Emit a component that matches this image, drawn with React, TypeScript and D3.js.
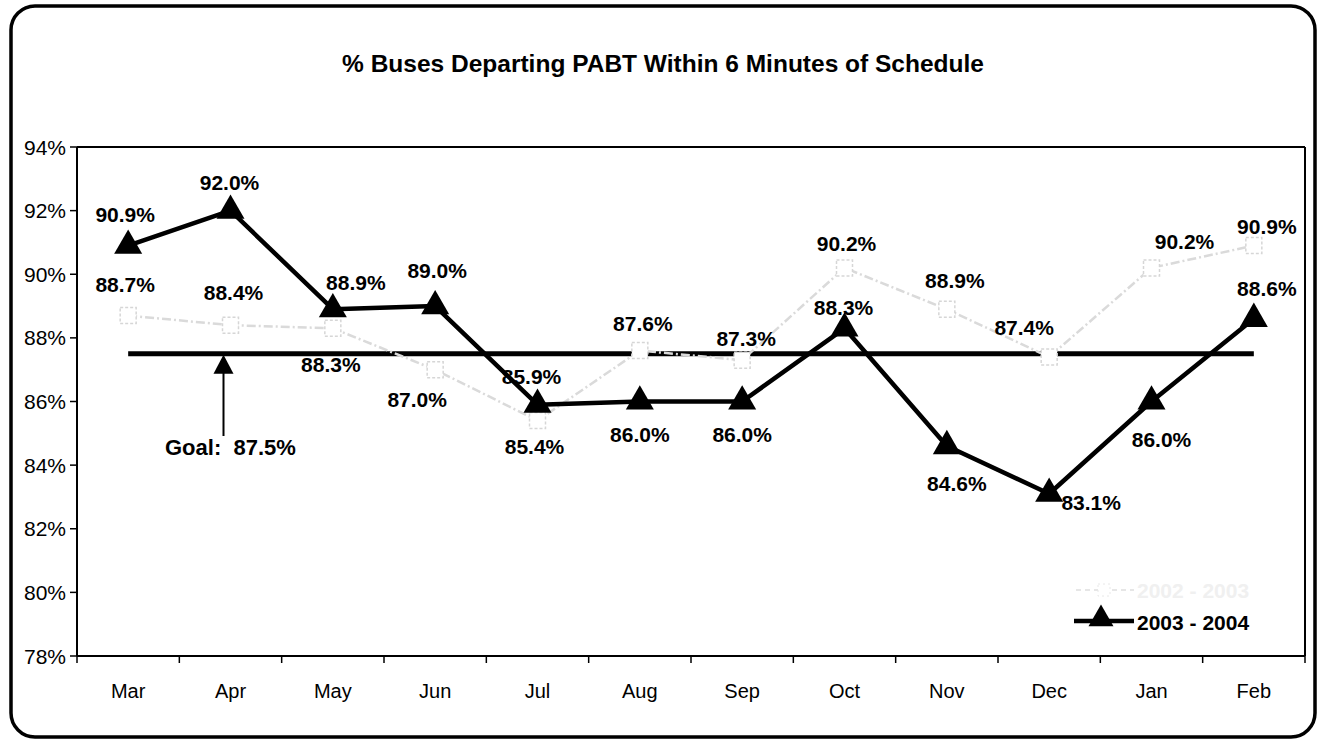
import React from "react";
import * as d3 from "d3";

const months = ["Mar", "Apr", "May", "Jun", "Jul", "Aug", "Sep", "Oct", "Nov", "Dec", "Jan", "Feb"];
const series0304 = [90.9, 92.0, 88.9, 89.0, 85.9, 86.0, 86.0, 88.3, 84.6, 83.1, 86.0, 88.6];
const series0203 = [88.7, 88.4, 88.3, 87.0, 85.4, 87.6, 87.3, 90.2, 88.9, 87.4, 90.2, 90.9];
const goalValue = 87.5;
const yTicks = [78, 80, 82, 84, 86, 88, 90, 92, 94];
const titleText = "% Buses Departing PABT Within 6 Minutes of Schedule";
const legendMain = "2003 - 2004";
const legendFaint = "2002 - 2003";

// label placement offsets (layout only)
const offMain: [number, number][] = [
  [-3, -31], [-1, -28], [23, -27], [2, -36], [-6, -28], [0, 33],
  [0, 33], [-1, -21], [10, 37], [42, 9], [10, 38], [13, -30],
];
const offFaint: [number, number][] = [
  [-3, -31], [3, -33], [-2, 36], [-18, 30], [-3, 26], [3, -27],
  [4, -22], [2, -24], [8, -29], [-25, -29], [33, -26], [13, -19],
];

const W = 1321, H = 745;
const left = 77, right = 1305, top = 147, bottom = 656;
const FONT = "'Liberation Sans', Arial, Helvetica, sans-serif";

export default function App() {
  const x = d3.scaleBand<string>().domain(months).range([left, right]);
  const cx = (m: string) => (x(m) as number) + x.bandwidth() / 2;
  const y = d3.scaleLinear().domain([78, 94]).range([bottom, top]);
  const fmt = (v: number) => v.toFixed(1) + "%";

  const line = d3.line<number>().x((_, i) => cx(months[i])).y((v) => y(v));
  const tri = d3.symbol().type(d3.symbolTriangle).size(340)();
  const triSmall = d3.symbol().type(d3.symbolTriangle).size(270)();

  const goalY = y(goalValue);
  const arrowX = cx("Apr") - 7;

  return (
    <svg width={W} height={H} style={{ position: "absolute", left: 0, top: 0, background: "#fff" }}
      fontFamily={FONT}>
      <rect x={0} y={0} width={W} height={H} fill="#fff" />
      {/* outer rounded frame */}
      <rect x={11} y={6} width={1304} height={731} rx={24} ry={24} fill="none" stroke="#000" strokeWidth={3.5} />

      {/* title */}
      <text x={663} y={72} textAnchor="middle" fontSize={24.5} fontWeight="bold">{titleText}</text>

      {/* plot frame */}
      <line x1={left} x2={right} y1={top} y2={top} stroke="#000" strokeWidth={2} />
      <line x1={right} x2={right} y1={top} y2={bottom} stroke="#000" strokeWidth={2} />
      <line x1={left} x2={left} y1={top} y2={bottom} stroke="#000" strokeWidth={2} />
      <line x1={left} x2={right} y1={bottom} y2={bottom} stroke="#000" strokeWidth={2} />

      {/* y ticks */}
      {yTicks.map((t) => (
        <g key={t}>
          <line x1={left - 7} x2={left} y1={y(t)} y2={y(t)} stroke="#000" strokeWidth={1.5} />
          <text x={66} y={y(t)} textAnchor="end" dominantBaseline="central" fontSize={21}>{t}%</text>
        </g>
      ))}

      {/* x ticks */}
      {months.map((m) => (
        <g key={m}>
          <line x1={x(m) as number} x2={x(m) as number} y1={bottom} y2={bottom + 7} stroke="#000" strokeWidth={1.5} />
          <text x={cx(m)} y={691} textAnchor="middle" dominantBaseline="central" fontSize={20}>{m}</text>
        </g>
      ))}
      <line x1={right} x2={right} y1={bottom} y2={bottom + 7} stroke="#000" strokeWidth={1.5} />

      {/* goal line */}
      <line x1={cx("Mar")} x2={cx("Feb")} y1={goalY} y2={goalY} stroke="#000" strokeWidth={5} />

      {/* faint series 2002-2003 */}
      <path d={line(series0203) as string} fill="none" stroke="#dadada" strokeWidth={2.5} strokeDasharray="9 3 2 3" />
      {series0203.map((v, i) => (
        <rect key={i} x={cx(months[i]) - 8} y={y(v) - 8} width={16} height={16} fill="#fff"
          stroke="#d6d6d6" strokeWidth={1.5} strokeDasharray="3 2" />
      ))}

      {/* main series 2003-2004 */}
      <path d={line(series0304) as string} fill="none" stroke="#000" strokeWidth={4.5} strokeLinejoin="round" />
      {series0304.map((v, i) => (
        <path key={i} d={tri as string} transform={`translate(${cx(months[i])},${y(v)})`} fill="#000" />
      ))}

      {/* labels */}
      {series0304.map((v, i) => (
        <text key={"m" + i} x={cx(months[i]) + offMain[i][0]} y={y(v) + offMain[i][1]}
          textAnchor="middle" dominantBaseline="central" fontSize={21} fontWeight="bold">{fmt(v)}</text>
      ))}
      {series0203.map((v, i) => (
        <text key={"f" + i} x={cx(months[i]) + offFaint[i][0]} y={y(v) + offFaint[i][1]}
          textAnchor="middle" dominantBaseline="central" fontSize={21} fontWeight="bold">{fmt(v)}</text>
      ))}

      {/* goal annotation */}
      <line x1={arrowX} x2={arrowX} y1={436} y2={goalY + 12} stroke="#000" strokeWidth={2} />
      <path d={`M${arrowX},${goalY + 1} L${arrowX + 10},${goalY + 20} L${arrowX - 10},${goalY + 20} Z`} fill="#000" />
      <text x={165} y={447} fontSize={22} fontWeight="bold" dominantBaseline="central" xmlSpace="preserve">{"Goal:  " + fmt(goalValue)}</text>

      {/* legend */}
      <line x1={1076} x2={1134} y1={590} y2={590} stroke="#e6e6e6" strokeWidth={2} strokeDasharray="5 4" />
      <rect x={1098} y={584} width={12} height={12} fill="#fff" stroke="#e8e8e8" strokeDasharray="2 3" />
      <text x={1137} y={590} fontSize={21} fontWeight="bold" dominantBaseline="central" fill="#f0f0f0">{legendFaint}</text>
      <line x1={1074} x2={1134} y1={621} y2={621} stroke="#000" strokeWidth={4.5} />
      <path d={triSmall as string} transform={`translate(1101,619)`} fill="#000" />
      <text x={1137} y={622} fontSize={21} fontWeight="bold" dominantBaseline="central">{legendMain}</text>
    </svg>
  );
}
